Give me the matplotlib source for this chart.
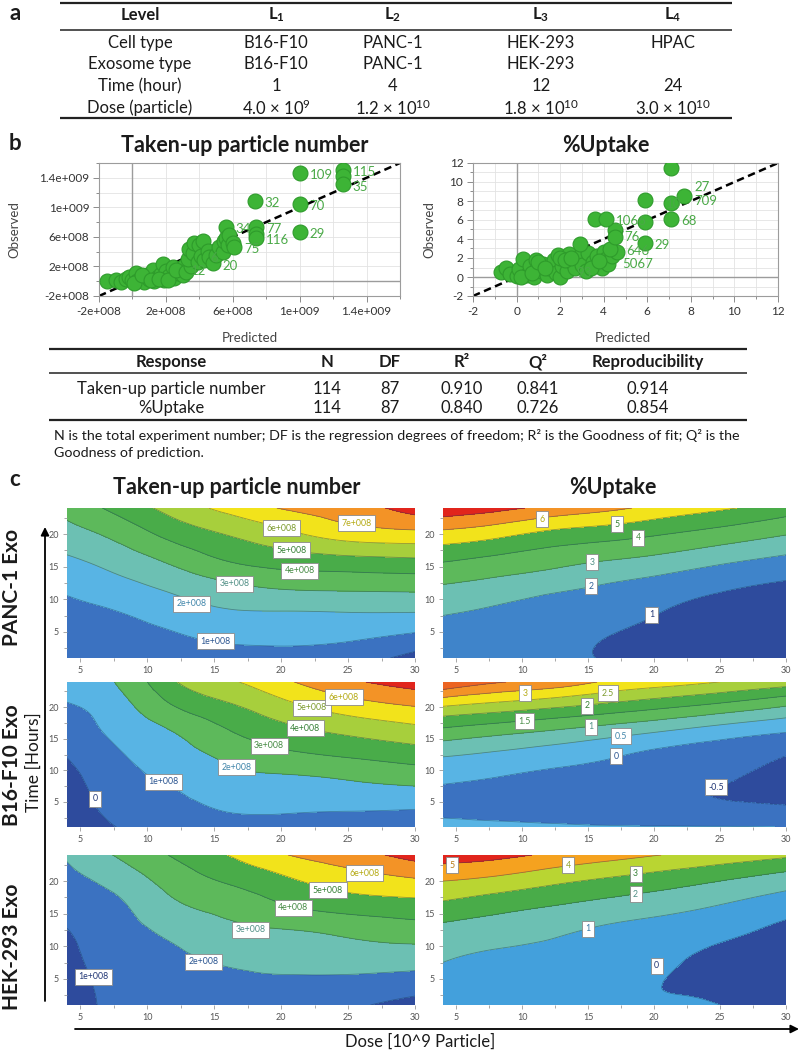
import numpy as np
import matplotlib
matplotlib.use("Agg")
import matplotlib.pyplot as plt
import matplotlib.tri as mtri
from matplotlib.colors import to_rgb
from matplotlib.ticker import FixedLocator, FixedFormatter, MultipleLocator

plt.rcParams['font.family'] = ['Lato', 'DejaVu Sans']
plt.rcParams['mathtext.fontset'] = 'custom'
plt.rcParams['mathtext.rm'] = 'Lato'
plt.rcParams['mathtext.it'] = 'Lato:italic'
plt.rcParams['mathtext.bf'] = 'Lato:bold'

W, H = 800, 1053
INK = "#1b1b1b"

# ---------------- (a) factor levels ----------------
LEVEL_HEAD = ["Level", r"$\mathbf{L_1}$", r"$\mathbf{L_2}$", r"$\mathbf{L_3}$", r"$\mathbf{L_4}$"]
CELL_TYPE = ["Cell type", "B16-F10", "PANC-1", "HEK-293", "HPAC"]
EXO_TYPE = ["Exosome type", "B16-F10", "PANC-1", "HEK-293", ""]
TIME_LEVELS = ["Time (hour)", "1", "4", "12", "24"]
DOSE_LEVELS = ["Dose (particle)", r"4.0 × 10$^{9}$", r"1.2 × 10$^{10}$",
               r"1.8 × 10$^{10}$", r"3.0 × 10$^{10}$"]

# ---------------- (b) observed vs predicted ----------------
# taken-up particle number, units of 1e8 particles
PRED_NUM = [-1.5, -1.0, -0.7, -0.4, -0.2, 0.0, 0.2, 0.3, 0.5, 0.7, 0.9, 1.0, 1.2, 1.3, 1.5, 1.7,
            1.8, 1.9, 2.0, 2.2, 2.4, 2.5, 2.7, 2.9, 3.0, 3.1, 0.1, 0.6, 1.1, 1.6, 2.1, 2.6, 3.2, 3.5,
            3.3, 3.4, 3.6, 3.7, 3.9, 4.0, 4.1, 4.2, 4.3, 4.5, 4.6, 4.8, 5.0, 5.2, 5.4, 5.5, 5.6,
            5.6, 5.7, 5.8, 6.0, 6.1, 7.4, 7.4, 7.4, 7.3, 10.0, 10.0, 10.0, 12.6, 12.6, 12.6]
OBS_NUM = [0.0, 0.1, -0.1, 0.3, 0.6, 0.2, 1.1, 0.0, 0.5, -0.1, 0.8, 0.3, 1.5, 0.0, 0.6, 1.0,
           2.3, 0.2, 1.4, 0.7, 1.9, 0.4, 1.1, 1.7, 0.8, 2.1, -0.2, 0.9, 0.1, 0.3, 0.2, 1.5, 1.2, 2.0,
           3.0, 4.4, 3.8, 5.2, 2.6, 4.9, 3.4, 5.4, 2.9, 4.1, 3.3, 2.4, 3.6, 4.6, 4.0, 5.5, 7.4,
           5.9, 4.9, 6.3, 5.2, 4.6, 7.3, 6.4, 5.8, 10.9, 14.7, 10.4, 6.7, 15.1, 14.2, 13.1]
NUM_TAG_TEXT = ["109", "115", "35", "32", "70", "29", "34", "77", "116", "75", "20", "12", "6"]
NUM_TAG_PRED = [10.0, 12.6, 12.6, 7.3, 10.0, 10.0, 5.6, 7.4, 7.4, 6.1, 4.8, 2.9, 4.1]
NUM_TAG_OBS = [14.7, 15.1, 13.1, 10.9, 10.4, 6.7, 7.4, 7.3, 5.8, 4.6, 2.4, 1.7, 3.4]
NUM_TICKS = [-2, 2, 6, 10, 14]
NUM_TICK_LABELS = ["-2e+008", "2e+008", "6e+008", "1e+009", "1.4e+009"]

# %uptake
PRED_PCT = [-0.7, -0.5, -0.3, 0.0, 0.1, 0.3, 0.5, 0.6, 0.8, 0.9, 1.1, 1.2, 1.4, 1.5, 1.7, 1.8,
            1.9, 2.0, 2.1, 2.3, 2.4, 2.6, 2.7, 2.9, 3.0, 3.2, 3.3, 3.5, 3.7, 3.9, 4.0, 4.1, 4.2,
            4.4, 4.6, 0.2, 0.7, 1.0, 1.3, 2.0, 2.2, 2.5, 3.4, 3.8, 4.3,
            2.9, 4.5, 4.5, 3.6, 4.1, 5.9, 5.9, 5.9, 7.1, 7.1, 7.7, 7.1]
OBS_PCT = [0.5, 0.9, 0.3, 0.1, 0.8, 1.9, 0.2, 1.2, 0.0, 1.8, 0.6, 1.4, 0.2, 1.0, 1.8, 0.4,
           2.3, 0.0, 1.2, 0.6, 2.4, 1.5, 0.9, 2.2, 1.3, 0.6, 2.5, 1.6, 2.2, 1.0, 2.6, 1.9, 1.4,
           2.2, 2.6, 0.0, 0.4, 1.6, 0.9, 2.0, 1.8, 2.0, 1.0, 1.7, 2.9,
           3.5, 4.9, 4.2, 6.1, 6.1, 8.1, 5.8, 3.6, 6.1, 7.8, 8.5, 11.5]
PCT_TAG_TEXT = ["27", "10", "709", "68", "29", "1066", "76", "646", "5067", "93"]
PCT_TAG_PRED = [7.7, 6.4, 7.7, 7.1, 5.9, 4.1, 4.5, 4.6, 4.4, 2.3]
PCT_TAG_OBS = [9.7, 7.9, 8.2, 6.1, 3.6, 6.1, 4.4, 3.0, 1.6, 0.6]
PCT_TICKS = [-2, 0, 2, 4, 6, 8, 10, 12]

# fit statistics
FIT_HEAD = ["Response", "N", "DF", "R²", "Q²", "Reproducibility"]
FIT_ROWS = [["Taken-up particle number", "114", "87", "0.910", "0.841", "0.914"],
            ["%Uptake", "114", "87", "0.840", "0.726", "0.854"]]
FOOTNOTE = ["N is the total experiment number; DF is the regression degrees of freedom; "
            "R² is the Goodness of fit; Q² is the",
            "Goodness of prediction."]

# ---------------- (c) response surfaces (rows: time, cols: dose) ----------------
DOSE = [4, 8, 12, 16, 20, 25, 30]
TIME = [1, 4, 8, 12, 16, 20, 24]

PANC_NUM = [[0.35, 0.30, 0.55, 0.60, 0.65, 0.45, -0.35],
            [0.45, 0.55, 0.85, 1.15, 1.20, 1.10, 0.70],
            [0.70, 1.00, 1.50, 1.90, 1.95, 2.00, 2.00],
            [1.20, 1.70, 2.25, 2.80, 3.15, 3.25, 3.30],
            [1.85, 2.45, 3.25, 4.05, 4.45, 4.70, 4.85],
            [2.60, 3.35, 4.35, 5.05, 5.70, 6.45, 6.70],
            [3.35, 4.35, 5.40, 6.30, 7.05, 7.60, 8.40]]
B16_NUM = [[-1.00, 0.05, 0.40, 0.55, 0.55, 0.45, 0.35],
           [-0.70, 0.35, 0.70, 1.10, 1.15, 1.10, 1.05],
           [-0.40, 0.60, 1.10, 1.60, 1.70, 1.90, 2.15],
           [0.00, 0.90, 1.55, 2.15, 2.65, 3.00, 3.35],
           [0.45, 1.25, 2.00, 2.90, 3.60, 4.15, 4.60],
           [0.90, 1.65, 2.95, 3.80, 4.60, 5.45, 5.95],
           [1.40, 2.15, 3.90, 4.85, 5.75, 6.80, 7.45]]
HEK_NUM = [[0.45, 1.25, 1.35, 1.50, 1.45, 1.15, 0.60],
           [0.60, 1.30, 1.55, 1.70, 1.75, 1.65, 1.45],
           [0.80, 1.40, 1.80, 2.15, 2.30, 2.45, 2.40],
           [0.95, 1.60, 2.20, 2.70, 2.85, 3.15, 3.45],
           [1.30, 1.85, 2.80, 3.30, 3.85, 4.35, 4.55],
           [1.70, 2.40, 3.40, 4.10, 4.75, 5.45, 5.85],
           [2.10, 3.15, 4.10, 5.00, 5.90, 6.60, 7.40]]
PANC_PCT = [[1.15, 1.12, 1.12, 0.98, 0.72, 0.35, 0.15],
            [1.50, 1.30, 1.28, 1.02, 0.75, 0.45, 0.25],
            [2.08, 1.80, 1.50, 1.40, 1.05, 0.70, 0.45],
            [2.93, 2.65, 2.30, 1.95, 1.60, 1.15, 0.85],
            [4.10, 3.75, 3.40, 3.05, 2.75, 2.22, 1.75],
            [5.70, 5.30, 4.75, 4.45, 4.10, 3.60, 3.05],
            [7.70, 7.30, 6.75, 6.30, 5.75, 5.15, 4.50]]
B16_PCT = [[0.20, 0.15, 0.10, 0.05, 0.03, 0.02, 0.00],
           [-0.12, -0.20, -0.28, -0.35, -0.40, -0.42, -0.45],
           [0.02, -0.08, -0.20, -0.30, -0.38, -0.48, -0.65],
           [0.48, 0.35, 0.20, 0.05, -0.15, -0.30, -0.52],
           [1.32, 1.12, 0.93, 0.72, 0.50, 0.22, 0.00],
           [2.45, 2.25, 2.05, 1.83, 1.60, 1.30, 0.95],
           [4.00, 3.55, 3.35, 2.97, 2.75, 2.50, 2.25]]
HEK_PCT = [[0.35, 0.30, 0.15, 0.05, 0.08, 0.00, -0.35],
           [0.60, 0.50, 0.35, 0.20, 0.02, -0.15, -0.45],
           [1.05, 0.80, 0.65, 0.45, 0.20, -0.20, -0.42],
           [1.60, 1.40, 1.15, 0.80, 0.55, 0.20, -0.30],
           [2.70, 2.30, 1.97, 1.65, 1.35, 0.92, 0.40],
           [4.00, 3.70, 3.25, 2.85, 2.50, 2.00, 1.45],
           [5.55, 5.30, 4.85, 4.45, 4.05, 3.65, 3.20]]

# contour labels: (level, dose, time)
PANC_NUM_TAGS = [(1, 15.1, 3.6), (2, 13.3, 9.3), (3, 16.5, 12.4), (4, 21.4, 14.4),
                 (5, 20.8, 17.5), (6, 20.0, 20.9), (7, 25.6, 21.7)]
B16_NUM_TAGS = [(0, 6.1, 5.5), (1, 11.2, 8.2), (2, 16.7, 10.5), (3, 19.1, 13.9),
                (4, 21.8, 16.7), (5, 22.3, 19.9), (6, 24.7, 21.6)]
HEK_NUM_TAGS = [(1, 6.0, 5.3), (2, 14.2, 7.6), (3, 17.7, 12.5), (4, 20.9, 15.9),
                (5, 23.5, 18.6), (6, 26.2, 21.2)]
PANC_PCT_TAGS = [(1, 19.8, 7.6), (2, 15.2, 12.0), (3, 15.3, 15.7), (4, 18.8, 19.4),
                 (5, 17.2, 21.5), (6, 11.5, 22.3)]
B16_PCT_TAGS = [(-0.5, 24.7, 7.3), (0, 17.1, 12.2), (0.5, 17.5, 15.4), (1, 15.2, 16.9),
                (1.5, 10.2, 17.8), (2, 14.9, 20.2), (2.5, 16.5, 22.2), (3, 10.2, 22.2)]
HEK_PCT_TAGS = [(0, 20.2, 7.0), (1, 15.0, 12.7), (2, 18.6, 18.0), (3, 18.6, 21.1),
                (4, 13.5, 22.4), (5, 4.7, 22.4)]

ROW_NAMES = ["PANC-1 Exo", "B16-F10 Exo", "HEK-293 Exo"]

# palette
NAVY, MBLUE, LBLUE, SKY = "#2e4b9d", "#3b72c1", "#58b4e4", "#43a0dc"
TEAL, GREEN1, GREEN2 = "#6cc0b3", "#5db95b", "#49ac49"
YGREEN, YELLOW, ORANGE, RED = "#a7cf3c", "#f2e31b", "#f39326", "#e1251c"

PANELS = [
    (PANC_NUM, [-9, 0, 1, 2, 3, 4, 5, 6, 7, 8, 20],
     [NAVY, MBLUE, LBLUE, TEAL, GREEN1, GREEN2, YGREEN, YELLOW, ORANGE, RED], PANC_NUM_TAGS, 'num'),
    (PANC_PCT, [-9, 1, 2, 3, 4, 5, 6, 7, 20],
     [NAVY, "#3f84ca", TEAL, GREEN1, GREEN2, YELLOW, ORANGE, RED], PANC_PCT_TAGS, 'pct'),
    (B16_NUM, [-9, 0, 1, 2, 3, 4, 5, 6, 7, 20],
     [NAVY, MBLUE, LBLUE, GREEN1, GREEN2, YGREEN, YELLOW, ORANGE, RED], B16_NUM_TAGS, 'num'),
    (B16_PCT, [-9, -0.5, 0, 0.5, 1, 1.5, 2, 2.5, 3, 3.5, 4, 20],
     [NAVY, MBLUE, LBLUE, TEAL, GREEN1, GREEN2, YGREEN, YELLOW, ORANGE, "#ec6422", RED],
     B16_PCT_TAGS, 'pct'),
    (HEK_NUM, [-9, 1, 2, 3, 4, 5, 6, 7, 20],
     [NAVY, MBLUE, TEAL, GREEN1, GREEN2, YELLOW, ORANGE, RED], HEK_NUM_TAGS, 'num'),
    (HEK_PCT, [-9, 0, 1, 2, 3, 4, 5, 20],
     [NAVY, SKY, TEAL, GREEN2, "#b9d532", "#f5a21f", RED], HEK_PCT_TAGS, 'pct'),
]


def rect(l, t, r, b):
    return [l / W, 1 - b / H, (r - l) / W, (b - t) / H]


def grid_triangulation():
    dd, tt = np.meshgrid(np.array(DOSE, float), np.array(TIME, float))
    nd = len(DOSE)
    tris = []
    for i in range(len(TIME) - 1):
        for j in range(nd - 1):
            a = i * nd + j
            tris += [[a, a + 1, a + nd + 1], [a, a + nd + 1, a + nd]]
    return mtri.Triangulation(dd.ravel(), tt.ravel(), np.array(tris))


REFINER = mtri.UniformTriRefiner(grid_triangulation())


def fmt_level(v, kind):
    if kind == 'num':
        return "0" if v == 0 else f"{int(v)}e+008"
    return f"{v:g}"


def surface(ax, z, levels, colors, tags, kind):
    tri_f, z_f = REFINER.refine_field(np.asarray(z, float).ravel(), subdiv=4)
    ax.tricontourf(tri_f, z_f, levels=levels, colors=colors)
    ax.tricontour(tri_f, z_f, levels=levels[1:-1], colors="#1d3b5a", linewidths=0.6, alpha=0.45)
    for lev, x, y in tags:
        i = levels.index(lev)
        c = np.array(to_rgb(colors[max(i - 1, 0)])) * 0.75
        ax.text(x, y, fmt_level(lev, kind), fontsize=6.3, color=c, ha='center', va='center',
                zorder=5, bbox=dict(boxstyle='square,pad=0.4', fc='white', ec='#8a8a8a', lw=0.6))
    ax.set_xlim(4, 30)
    ax.set_ylim(1, 24)
    ax.set_xticks([5, 10, 15, 20, 25, 30])
    ax.set_yticks([5, 10, 15, 20])
    ax.xaxis.set_minor_locator(MultipleLocator(2.5))
    ax.yaxis.set_minor_locator(MultipleLocator(2.5))
    ax.tick_params(which='both', direction='out', colors='#9a9a9a', labelcolor='#555555',
                   labelsize=6.5, width=0.6, pad=3)
    ax.tick_params(which='major', length=3)
    ax.tick_params(which='minor', length=2)
    for s in ax.spines.values():
        s.set_visible(False)


def scatter_panel(ax, px, py, tags, lim, ticks, tick_labels, minor):
    ax.set_xlim(lim)
    ax.set_ylim(lim)
    for a in (ax.xaxis, ax.yaxis):
        a.set_major_locator(FixedLocator(ticks))
        a.set_major_formatter(FixedFormatter(tick_labels))
        a.set_minor_locator(FixedLocator(minor))
    ax.set_axisbelow(True)
    ax.grid(True, which='both', color='#e3e3e3', lw=0.6)
    ax.axhline(0, color='#9c9c9c', lw=1.0, zorder=1)
    ax.axvline(0, color='#9c9c9c', lw=1.0, zorder=1)
    ax.plot(lim, lim, ls=(0, (3, 1.8)), color='k', lw=1.8, zorder=2)
    ax.scatter(px, py, s=115, c='#3db436', edgecolors='#2e9b2b', linewidths=0.8, zorder=3)
    for t, x, y in zip(*tags):
        ax.annotate(t, (x, y), xytext=(7, -1.5), textcoords='offset points', fontsize=9.5,
                    color='#4aa947', va='center', zorder=4)
    ax.tick_params(which='both', direction='out', colors='#8c8c8c', labelcolor='#333333',
                   labelsize=8.5, width=0.7)
    ax.tick_params(which='major', length=4, pad=3)
    ax.tick_params(which='minor', length=2.5)
    for s in ax.spines.values():
        s.set_color('#9c9c9c')
        s.set_linewidth(0.8)


fig = plt.figure(figsize=(W / 100, H / 100), dpi=100)

# ---- (b) scatter panels ----
axL = fig.add_axes(rect(99, 163, 400, 296))
scatter_panel(axL, PRED_NUM, OBS_NUM, (NUM_TAG_TEXT, NUM_TAG_PRED, NUM_TAG_OBS), (-2, 16),
              NUM_TICKS, NUM_TICK_LABELS, [0, 4, 8, 12, 16])
axR = fig.add_axes(rect(473, 163, 778, 296))
scatter_panel(axR, PRED_PCT, OBS_PCT, (PCT_TAG_TEXT, PCT_TAG_PRED, PCT_TAG_OBS), (-2, 12),
              PCT_TICKS, [str(v) for v in PCT_TICKS], [-1, 1, 3, 5, 7, 9, 11])

# ---- (c) response surfaces ----
ROW_SPANS = [(508, 658), (682, 827), (855, 1005)]
COL_SPANS = [(67, 415), (443, 786)]
for k, (z, levels, colors, tags, kind) in enumerate(PANELS):
    r, c = divmod(k, 2)
    ax = fig.add_axes(rect(COL_SPANS[c][0], ROW_SPANS[r][0], COL_SPANS[c][1], ROW_SPANS[r][1]))
    surface(ax, z, levels, colors, tags, kind)

# ---- canvas for tables, captions, arrows ----
cv = fig.add_axes([0, 0, 1, 1], zorder=10)
cv.set_xlim(0, W)
cv.set_ylim(H, 0)
cv.axis('off')


def txt(x, y, s, size=10.5, weight='normal', ha='center', rot=0, color=INK):
    cv.text(x, y, s, fontsize=size, fontweight=weight, ha=ha, va='center',
            rotation=rot, color=color)


def rule(x0, x1, y, lw):
    cv.plot([x0, x1], [y, y], color='#222222', lw=lw, solid_capstyle='butt')


for s, y in [("a", 14), ("b", 143), ("c", 480)]:
    txt(15, y, s, size=16, weight='bold')

# table a
COLX_A = [140, 276, 393, 541, 673]
rule(60, 732, 3, 1.6)
rule(60, 732, 30, 1.1)
rule(60, 732, 118, 1.6)
for x, s in zip(COLX_A, LEVEL_HEAD):
    txt(x, 15, s, size=12, weight='bold')
for y, row in zip([43, 64, 86, 108], [CELL_TYPE, EXO_TYPE, TIME_LEVELS, DOSE_LEVELS]):
    for x, s in zip(COLX_A, row):
        txt(x, y, s, size=12)

# scatter titles and axis names
txt(245, 145, "Taken-up particle number", size=15.5, weight='bold')
txt(606, 145, "%Uptake", size=15.5, weight='bold')
for x in (14, 429):
    txt(x, 230, "Observed", size=9.5, rot=90, color='#444444')
for x in (250, 623):
    txt(x, 338, "Predicted", size=9.5, color='#444444')

# table b
COLX_B = [171, 327, 390, 462, 538, 648]
rule(49, 747, 349, 1.6)
rule(49, 747, 373, 1.1)
rule(49, 747, 420, 1.6)
for x, s in zip(COLX_B, FIT_HEAD):
    txt(x, 362, s, size=12, weight='bold')
for y, row in zip([389, 408], FIT_ROWS):
    for x, s in zip(COLX_B, row):
        txt(x, y, s, size=12)
for y, s in zip([435, 453], FOOTNOTE):
    txt(54, y, s, size=10.3, ha='left')

# surface titles, row names, axis names
txt(237, 487, "Taken-up particle number", size=15.5, weight='bold')
txt(613, 487, "%Uptake", size=15.5, weight='bold')
for y, s in zip([587, 765, 947], ROW_NAMES):
    txt(12, y, s, size=15, weight='bold', rot=90)
txt(34, 762, "Time [Hours]", size=12.5, rot=90)
txt(420, 1042, "Dose [10^9 Particle]", size=12)
arrow = dict(arrowstyle='-|>', color='k', lw=1.3, mutation_scale=12, shrinkA=0, shrinkB=0)
cv.annotate('', xy=(45, 527), xytext=(45, 1001), arrowprops=arrow)
cv.annotate('', xy=(799, 1029), xytext=(75, 1029), arrowprops=arrow)

fig.savefig("out.png", dpi=100)
